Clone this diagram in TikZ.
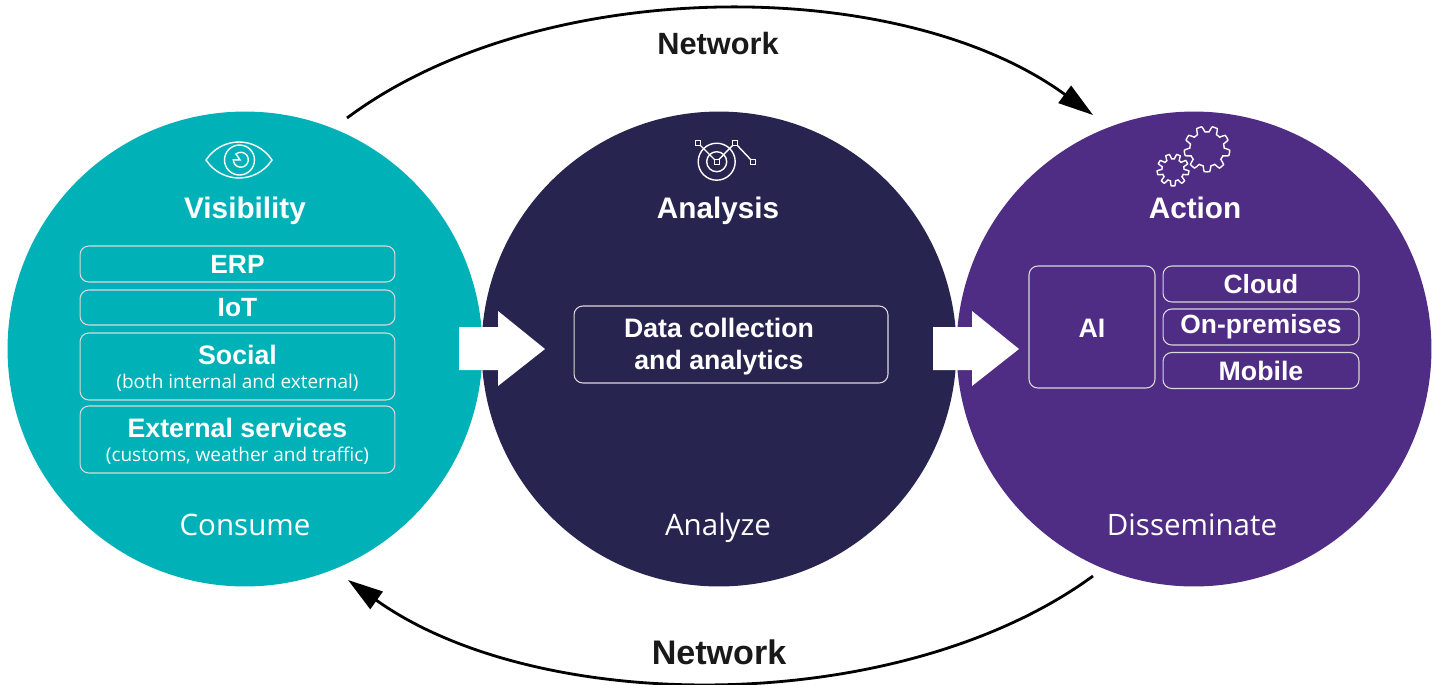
\documentclass[tikz,border=0pt]{standalone}
\usepackage{fontspec}
\setmainfont{Liberation Sans}
\newfontfamily\lightfont{Open Sans}
\usetikzlibrary{arrows.meta}
\definecolor{tealcol}{HTML}{00B2B8}
\definecolor{navycol}{HTML}{27254F}
\definecolor{purplecol}{HTML}{4F2D84}
\tikzset{
  stage/.style={circle,minimum size=9.5cm,inner sep=0pt},
  box/.style={draw=white!85!black,line width=0.6pt,rounded corners=5pt,text=white,align=center,inner sep=0pt,font=\fontsize{15}{18}\selectfont\bfseries},
  boxtext/.style={text=white,anchor=base,inner sep=0pt,font=\fontsize{15.2}{18}\selectfont\bfseries},
  subtext/.style={text=white,anchor=base,inner sep=0pt,font=\lightfont\fontsize{10.8}{12}\selectfont},
  heading/.style={text=white,anchor=base,font=\fontsize{16.9}{18}\selectfont\bfseries},
  bottomtext/.style={text=white,anchor=base,font=\lightfont\fontsize{16.8}{18}\selectfont},
  nettext/.style={text=black!90,font=\fontsize{17.5}{18}\selectfont\bfseries},
  netarrow/.style={line width=1.6pt,-{Stealth[length=20pt,width=12pt,inset=0pt]}},
  icon/.style={draw=white,line width=0.8pt}
}
\begin{document}
\begin{tikzpicture}[x=0.02cm,y=-0.02cm]
    \useasboundingbox (0,0) rectangle (1438,684);
    % Three stages
    \node[stage,fill=tealcol] (consume) at (245,349) {};
    \node[stage,fill=navycol] (analyze) at (719,349) {};
    \node[stage,fill=purplecol] (disseminate) at (1194,349) {};
    % White arrows between the stages
    \foreach \x in {459,933} \fill[white] (\x,327) -- (\x+39,327) -- (\x+39,311) -- (\x+86,349) -- (\x+39,386) -- (\x+39,370) -- (\x,370) -- cycle;
    % Network arcs
    \coordinate (topstart) at (347,118);
    \coordinate (topend) at (1093,115);
    \coordinate (botstart) at (1093,576);
    \coordinate (botend) at (348,580);
    \draw[netarrow] (topstart) .. controls (540,-26) and (900,-26) .. (topend);
    \draw[netarrow] (botstart) .. controls (900,717) and (540,717) .. (botend);
    \node[nettext] (nettop) at (718,44) {Network};
    \node[nettext,font=\fontsize{19.4}{20}\selectfont\bfseries] (netbot) at (719,652) {Network};
    % Headings
    \node[heading] (visibility) at (245,218) {Visibility};
    \node[heading] (analysis) at (718,218) {Analysis};
    \node[heading] (action) at (1195,218) {Action};
    % Visibility boxes
    \node[box,minimum width=6.3cm,minimum height=0.72cm] (erp) at (237.5,264) {ERP};
    \node[box,minimum width=6.3cm,minimum height=0.7cm] (iot) at (237.5,307.5) {IoT};
    \node[box,minimum width=6.3cm,minimum height=1.34cm] (social) at (237.5,366.5) {};
    \node[boxtext] (socialtxt) at (237.5,364) {Social};
    \node[subtext] (socialsub) at (237.5,388) {(both internal and external)};
    \node[box,minimum width=6.3cm,minimum height=1.34cm] (external) at (237.5,439.5) {};
    \node[boxtext] (externaltxt) at (237.5,437) {External services};
    \node[subtext] (externalsub) at (237.5,461) {(customs, weather and traffic)};
    % Analysis box
    \node[box,minimum width=6.28cm,minimum height=1.54cm] (data) at (731,344.5) {};
    \node[boxtext] (datatxt) at (719,337) {Data collection};
    \node[boxtext] (datatxtb) at (719,369) {and analytics};
    % Action boxes
    \node[box,minimum width=2.52cm,minimum height=2.44cm] (ai) at (1092,327) {};
    \node[boxtext] (aitxt) at (1092,337) {AI};
    \node[box,minimum width=3.92cm,minimum height=0.72cm] (cloud) at (1261,284) {Cloud};
    \node[box,minimum width=3.92cm,minimum height=0.72cm] (onprem) at (1261,327) {On-premises};
    \node[box,minimum width=3.92cm,minimum height=0.72cm] (mobile) at (1261,370.5) {};
    \node[boxtext] (mobiletxt) at (1261,380) {Mobile};
    % Bottom labels
    \node[bottomtext] (lblconsume) at (245,535) {Consume};
    \node[bottomtext] (lblanalyze) at (718,535) {Analyze};
    \node[bottomtext] (lbldisseminate) at (1192,535) {Disseminate};
    % Eye icon
    \draw[icon] (206,160) .. controls (222,136) and (256,136) .. (272,160) .. controls (256,184) and (222,184) .. (206,160) -- cycle;
    \draw[icon] (239.5,160) circle (15);
    \draw[icon] (236,154) arc (-130:180:7.5) -- (240,160) -- cycle;
    % Radar icon
    \draw[icon] (716.7,161.7) circle (18.5);
    \draw[icon] (716.7,161.7) circle (10);
    \draw[icon] (698,143) -- (716.7,161.7) -- (735,143) -- (753,162);
    \foreach \x/\y in {698/143,716.7/161.7,735/143,753/162} \filldraw[icon,fill=navycol] (\x-2.5,\y-2.5) rectangle (\x+2.5,\y+2.5);
    % Gear icon
    \draw[icon,samples=217,domain=0:360] plot ({1207+(20+2.8*max(min(2.2*sin(9*\x),1),-1))*cos(\x)},{149+(20+2.8*max(min(2.2*sin(9*\x),1),-1))*sin(\x)}) -- cycle;
    \draw[icon,samples=217,domain=0:360] plot ({1173+(13.5+2.4*max(min(2.2*sin(9*\x),1),-1))*cos(\x)},{170+(13.5+2.4*max(min(2.2*sin(9*\x),1),-1))*sin(\x)}) -- cycle;
\end{tikzpicture}
\end{document}
